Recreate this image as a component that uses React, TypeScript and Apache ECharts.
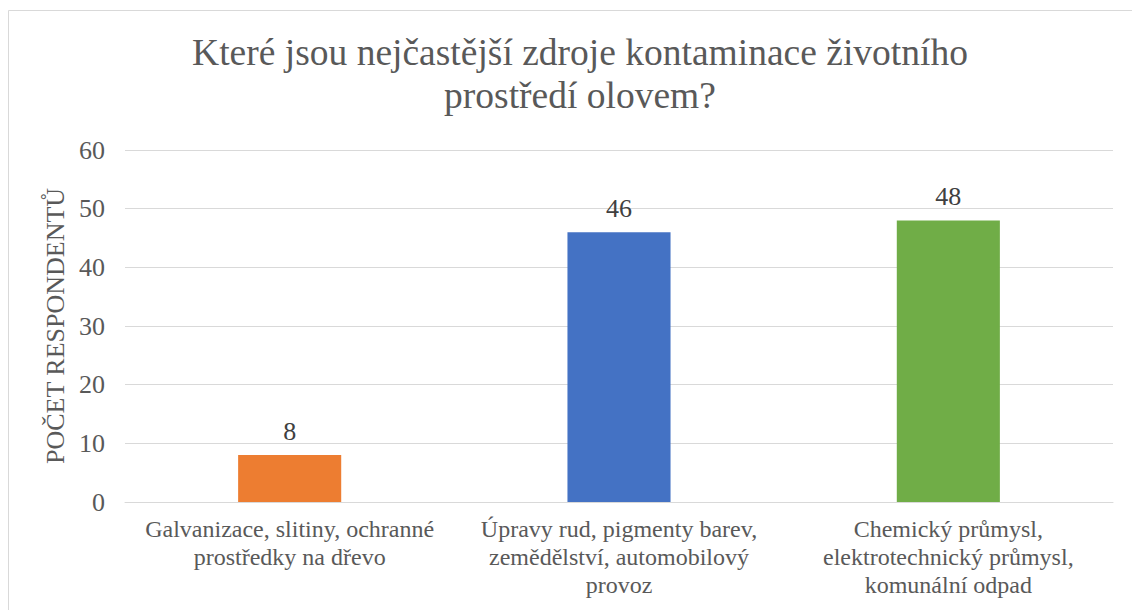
import React, { useEffect, useRef } from "react";
import * as echarts from "echarts";

const titleText = "Které jsou nejčastější zdroje kontaminace životního\nprostředí olovem?";
const categories = [
  "Galvanizace, slitiny, ochranné\nprostředky na dřevo",
  "Úpravy rud, pigmenty barev,\nzemědělství, automobilový\nprovoz",
  "Chemický průmysl,\nelektrotechnický průmysl,\nkomunální odpad",
];
const values = [8, 46, 48];
const barColors = ["#ED7D31", "#4472C4", "#70AD47"];
const yAxisName = "POČET RESPONDENTŮ";

const FONT = "Liberation Serif, serif";

export default function App() {
  const ref = useRef<HTMLDivElement>(null);
  useEffect(() => {
    if (!ref.current) return;
    const chart = echarts.init(ref.current, null, { renderer: "svg" });
    chart.setOption({
      animation: false,
      backgroundColor: "#ffffff",
      textStyle: { fontFamily: FONT },
      graphic: [
        {
          type: "rect",
          shape: { x: 8.5, y: 10.5, width: 1130, height: 620 },
          style: { fill: "none", stroke: "#d9d9d9", lineWidth: 1 },
          silent: true,
        },
      ],
      title: {
        text: titleText,
        left: 575,
        top: 26,
        textAlign: "center",
        textStyle: {
          fontFamily: FONT,
          fontSize: 37.5,
          fontWeight: "normal",
          color: "#595959",
          lineHeight: 43,
        },
      },
      grid: { left: 125, right: 19, top: 150, bottom: 108, containLabel: false },
      xAxis: {
        type: "category",
        data: categories,
        axisLine: { show: true, lineStyle: { color: "#d9d9d9", width: 1 } },
        axisTick: { show: false },
        axisLabel: {
          interval: 0,
          margin: 13,
          fontFamily: FONT,
          fontSize: 24,
          lineHeight: 28,
          color: "#595959",
          align: "center",
        },
      },
      yAxis: {
        type: "value",
        min: 0,
        max: 60,
        interval: 10,
        name: yAxisName,
        nameLocation: "middle",
        nameRotate: 90,
        nameGap: 48,
        nameTextStyle: { fontFamily: FONT, fontSize: 26, color: "#595959" },
        axisLine: { show: false },
        axisTick: { show: false },
        axisLabel: { margin: 20, fontFamily: FONT, fontSize: 26, color: "#595959" },
        splitLine: { lineStyle: { color: "#d9d9d9", width: 1 } },
      },
      series: [
        {
          type: "bar",
          barWidth: "31.3%",
          data: values.map((v, i) => ({ value: v, itemStyle: { color: barColors[i] } })),
          label: {
            show: true,
            position: "top",
            distance: 11,
            fontFamily: FONT,
            fontSize: 26,
            color: "#404040",
          },
        },
      ],
    });
    return () => chart.dispose();
  }, []);
  return (
    <div
      ref={ref}
      style={{ position: "fixed", left: 0, top: 0, width: 1132, height: 610 }}
    />
  );
}
